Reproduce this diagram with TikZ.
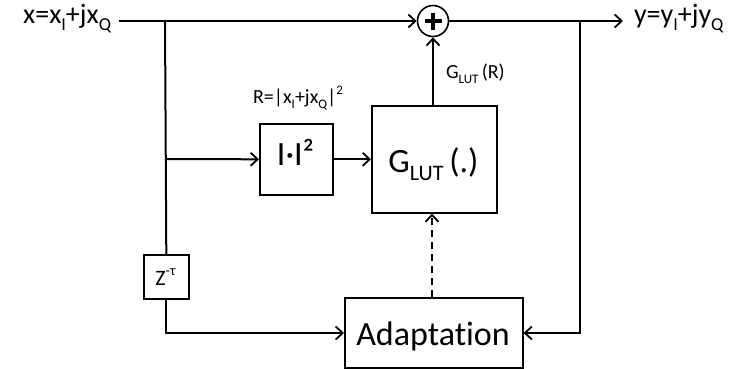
\documentclass[tikz,border=0pt]{standalone}
\usepackage{fontspec}
\setmainfont{Carlito}[Ligatures={NoCommon}]
\usetikzlibrary{arrows.meta}
\newcommand{\lo}[1]{\raisebox{-0.25em}{\scalebox{0.65}{#1}}}
\newcommand{\hi}[1]{\raisebox{0.42em}{\scalebox{0.65}{#1}}}
\begin{document}
\begin{tikzpicture}[x=1pt,y=-1pt,
  line width=2pt,
  arr/.style={-{Straight Barb[length=7pt,width=13pt,line width=1.8pt]}},
  blk/.style={draw,line width=1.6pt,inner sep=0pt,anchor=north west},
  big/.style={font=\fontsize{34}{36}\selectfont},
  mid/.style={font=\fontsize{28}{30}\selectfont},
  sml/.style={font=\fontsize{20}{22}\selectfont},
  zfont/.style={font=\fontsize{22}{24}\selectfont}]
\useasboundingbox (0,0) rectangle (735,368);
% blocks
\node[blk,minimum width=125pt,minimum height=107pt] (glut) at (371,105) {};
\node[big,anchor=base] (glutt) at (433.5,172) {G\lo{LUT}\,(.)};
\node[blk,minimum width=73pt,minimum height=71pt] (sq) at (259,123) {};
\node[big,anchor=base] (sqt) at (295.5,165) {I·I²};
\node[blk,minimum width=45pt,minimum height=44pt] (z) at (143,254) {};
\node[zfont,anchor=base] (zt) at (165.5,285) {Z\hi{-τ}};
\node[blk,minimum width=178pt,minimum height=70pt] (ad) at (344,297) {};
\node[big,anchor=base] (adt) at (433,345) {Adaptation};
\node[draw,circle,line width=1.6pt,minimum size=31pt,inner sep=0pt] (sum) at (433,21) {};
\draw[line width=3.5pt] (sum.center) ++(-8.5,0) -- ++(17,0) (sum.center) ++(0,-8.5) -- ++(0,17);
% texts
\node[mid,anchor=mid east,inner sep=0pt] (xin) at (112,21) {x=x\lo{I}+jx\lo{Q}};
\node[mid,anchor=mid west,inner sep=0pt] (yout) at (633,21) {y=y\lo{I}+jy\lo{Q}};
\node[sml,anchor=base] (rlab) at (298,103) {R=|x\lo{I}+jx\lo{Q}|\hi{2}};
\node[sml,anchor=base west,inner sep=0pt] (glab) at (445,78) {G\lo{LUT}\,(R)};
% coordinates
\coordinate (b1) at (165,21);
\coordinate (b2) at (165,159);
\coordinate (b3) at (580,21);
\coordinate (xs) at (119,21);
\coordinate (ye) at (623,21);
% connectors
\draw[arr] (xs) -- (sum.west);
\draw[arr] (sum.east) -- (ye);
\draw (b1) -- (z.north);
\draw[arr] (b2) -- (sq.west);
\draw[arr] (sq.east) -- (sq.east -| glut.west);
\draw[arr] (glut.north -| sum.south) -- (sum.south);
\draw[arr] (z.south) |- (ad.west |- 0,333);
\draw[arr] (b3) |- (ad.east |- 0,333);
\draw[arr,dashed,dash pattern=on 7pt off 5pt] (ad.north -| 432,0) -- (glut.south -| 432,0);
\end{tikzpicture}
\end{document}
